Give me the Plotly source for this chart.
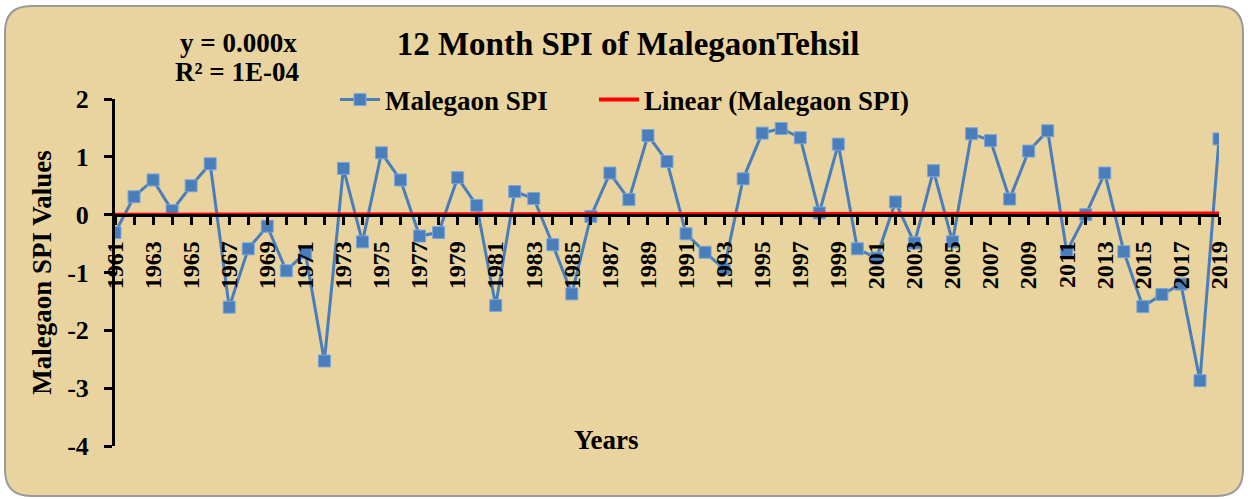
import numpy as np
import plotly.graph_objects as go

years = list(range(1961, 2020))
spi = [-0.31, 0.31, 0.60, 0.07, 0.50, 0.88, -1.60, -0.59, -0.20, -0.97,
       -0.66, -2.53, 0.80, -0.47, 1.07, 0.60, -0.37, -0.31, 0.64, 0.16,
       -1.57, 0.40, 0.28, -0.52, -1.37, -0.03, 0.72, 0.26, 1.37, 0.92,
       -0.33, -0.65, -0.94, 0.62, 1.41, 1.49, 1.33, 0.03, 1.22, -0.59,
       -0.75, 0.22, -0.49, 0.76, -0.47, 1.40, 1.28, 0.27, 1.10, 1.45,
       -0.64, 0.00, 0.72, -0.64, -1.59, -1.38, -1.20, -2.87, 1.31]
y_ticks = [2, 1, 0, -1, -2, -3, -4]
y_tick_text = ["2", "1", "0", "-1", "-2", "-3", "-4"]
x_tick_text = [str(y) if y % 2 == 1 else "" for y in years]

# Linear trend through origin on category index (Excel style)
idx = np.arange(1, len(spi) + 1)
vals = np.array(spi)
slope = float((idx * vals).sum() / (idx * idx).sum())
trend = slope * idx

W, H = 1251, 499
L, R, T, B = 115, 32, 99, 53
pw, ph = W - L - R, H - T - B

def px(x):
    return (x - L) / pw

def py(y):
    return (H - B - y) / ph

FONT = "Liberation Serif"
BLUE = "#4A7EBB"
LEGFONT = dict(family=FONT, size=27, color="black", weight="bold")

fig = go.Figure()
fig.add_trace(go.Scatter(
    x=years, y=spi, mode="lines+markers", name="Malegaon SPI",
    line=dict(color=BLUE, width=3), legend="legend",
    marker=dict(symbol="square", size=12, color=BLUE,
                line=dict(color="#7AA6DA", width=1)),
))
fig.add_trace(go.Scatter(
    x=years, y=trend, mode="lines", name="Linear (Malegaon SPI)",
    line=dict(color="#FF0000", width=4), legend="legend2",
))

# rounded background panel
x0, x1, y0, y1, r = px(5), px(1243), py(496), py(6), 26
rx, ry = r / pw, r / ph
path = (f"M {x0+rx},{y1} L {x1-rx},{y1} Q {x1},{y1} {x1},{y1-ry} "
        f"L {x1},{y0+ry} Q {x1},{y0} {x1-rx},{y0} L {x0+rx},{y0} "
        f"Q {x0},{y0} {x0},{y0+ry} L {x0},{y1-ry} Q {x0},{y1} {x0+rx},{y1} Z")
fig.add_shape(type="path", path=path, xref="paper", yref="paper",
              fillcolor="#E9D39E", line=dict(color="#9A9A9A", width=2),
              layer="below")

fig.update_layout(
    width=W, height=H,
    margin=dict(l=L, r=R, t=T, b=B, autoexpand=False),
    paper_bgcolor="white", plot_bgcolor="rgba(0,0,0,0)",
    font=dict(family=FONT, color="black", size=26, weight="bold"),
    title=dict(text="12 Month SPI of MalegaonTehsil", xref="container",
               x=628 / W, xanchor="center", yref="container",
               y=1 - 43 / H, yanchor="middle",
               font=dict(family=FONT, size=33, color="black", weight="bold")),
    showlegend=True,
    legend=dict(orientation="h", xref="container", x=335 / W, xanchor="left",
                yref="container", y=1 - 100 / H, yanchor="middle",
                bgcolor="rgba(0,0,0,0)", font=LEGFONT, itemwidth=40),
    legend2=dict(orientation="h", xref="container", x=594 / W, xanchor="left",
                 yref="container", y=1 - 100 / H, yanchor="middle",
                 bgcolor="rgba(0,0,0,0)", font=LEGFONT, itemwidth=40),
    xaxis=dict(range=[1961, 2019], tickvals=years, ticktext=x_tick_text,
               tickangle=-90, ticks="outside", ticklen=8, tickwidth=3,
               tickcolor="black", showline=True, linecolor="black",
               linewidth=3, showgrid=False, zeroline=False, automargin=False,
               anchor="free", position=4 / 6, ticklabelstandoff=7,
               tickfont=dict(family=FONT, size=24, color="black", weight="bold")),
    yaxis=dict(range=[-4, 2], tickvals=y_ticks, ticktext=y_tick_text,
               ticks="outside", ticklen=8,
               tickwidth=3, tickcolor="black", showline=True,
               linecolor="black", linewidth=3, showgrid=False,
               zeroline=False, ticklabelstandoff=10, automargin=False,
               tickfont=dict(family=FONT, size=26, color="black", weight="bold"),
               title=dict(text="Malegaon SPI Values", standoff=8,
                          font=dict(family=FONT, size=27, color="black",
                                    weight="bold"))),
    annotations=[
        dict(text="Years", xref="paper", yref="paper", x=px(606), y=py(440),
             xanchor="center", yanchor="middle", showarrow=False,
             font=dict(family=FONT, size=27, color="black", weight="bold")),
        dict(text="y = 0.000x", xref="paper", yref="paper", x=px(238),
             y=py(43), xanchor="center", yanchor="middle", showarrow=False,
             font=dict(family=FONT, size=27, color="black", weight="bold")),
        dict(text="R² = 1E-04", xref="paper", yref="paper", x=px(237),
             y=py(72), xanchor="center", yanchor="middle", showarrow=False,
             font=dict(family=FONT, size=27, color="black", weight="bold")),
    ],
)

fig.write_html("out.html", config=dict(displayModeBar=False),
               post_script="document.body.style.margin='0';"
                           "document.body.style.overflow='hidden';")
